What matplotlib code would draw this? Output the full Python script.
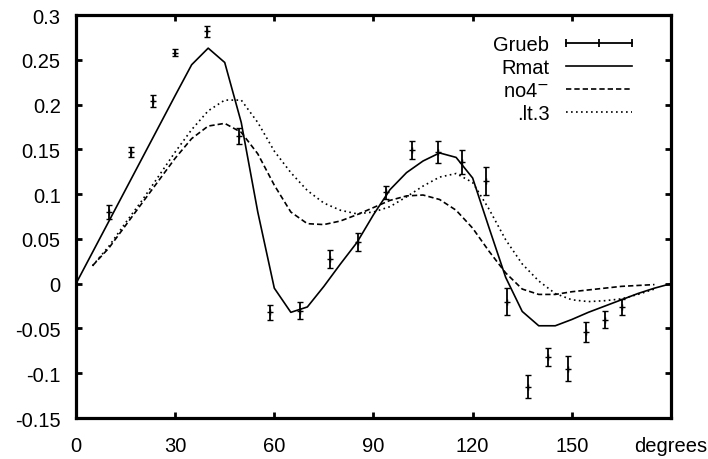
import matplotlib
matplotlib.use('Agg')
import matplotlib.pyplot as plt
from matplotlib.lines import Line2D
from matplotlib.legend_handler import HandlerBase

plt.rcParams['font.family'] = ['Liberation Sans', 'DejaVu Sans']

# Grueb data points with error bars
grueb_x = [10, 16.6, 23.4, 30, 39.7, 49.4, 58.7, 67.8, 76.8, 85.4, 93.8,
           101.7, 109.6, 116.8, 124.1, 130.4, 136.8, 142.8, 148.7, 154.3, 160, 165.2]
grueb_y = [0.080, 0.147, 0.204, 0.258, 0.282, 0.165, -0.032, -0.030, 0.028, 0.047, 0.102,
           0.149, 0.147, 0.136, 0.115, -0.020, -0.115, -0.082, -0.095, -0.054, -0.040, -0.026]
grueb_err = [0.0075, 0.006, 0.007, 0.0035, 0.006, 0.009, 0.0085, 0.0095, 0.010, 0.010, 0.0075,
             0.010, 0.012, 0.013, 0.0155, 0.015, 0.013, 0.010, 0.014, 0.011, 0.009, 0.0085]

# Rmat curve (every 5 degrees)
rmat_x = list(range(0, 181, 5))
rmat_y = [0, 0.035, 0.070, 0.105, 0.140, 0.175, 0.210, 0.2445, 0.263, 0.247, 0.180, 0.080,
          -0.005, -0.032, -0.026, -0.003, 0.022, 0.046, 0.077, 0.105, 0.124, 0.137, 0.146,
          0.141, 0.118, 0.062, 0.007, -0.031, -0.047, -0.047, -0.040, -0.032, -0.025,
          -0.018, -0.011, -0.005, 0]

# no4- curve
no4_x = list(range(5, 176, 5))
no4_y = [0.020, 0.040, 0.065, 0.090, 0.115, 0.140, 0.162, 0.176, 0.179, 0.169, 0.145, 0.110,
         0.080, 0.067, 0.066, 0.070, 0.077, 0.085, 0.093, 0.098, 0.099, 0.094, 0.082, 0.062,
         0.036, 0.012, -0.006, -0.012, -0.012, -0.009, -0.007, -0.005, -0.003, -0.002, -0.001]

# .lt.3 curve
lt3_x = list(range(5, 176, 5))
lt3_y = [0.020, 0.042, 0.068, 0.093, 0.120, 0.147, 0.172, 0.193, 0.205, 0.205, 0.180, 0.148,
         0.124, 0.104, 0.090, 0.082, 0.078, 0.080, 0.086, 0.097, 0.109, 0.119, 0.123, 0.113,
         0.083, 0.049, 0.022, 0.003, -0.011, -0.018, -0.020, -0.019, -0.017, -0.012, -0.006]

xticks = [0, 30, 60, 90, 120, 150, 180]
xlabels = ['0', '30', '60', '90', '120', '150', 'degrees']
yticks = [0.3, 0.25, 0.2, 0.15, 0.1, 0.05, 0, -0.05, -0.1, -0.15]
ylabels = ['0.3', '0.25', '0.2', '0.15', '0.1', '0.05', '0', '-0.05', '-0.1', '-0.15']


class HandlerGrueb(HandlerBase):
    # horizontal error bar style legend key
    def create_artists(self, legend, orig_handle, xdescent, ydescent,
                       width, height, fontsize, trans):
        y = height / 2 - ydescent
        x0 = -xdescent
        x1 = width - xdescent
        line = Line2D([x0, x1], [y, y], color='black', lw=1.3)
        caps = Line2D([x0, (x0 + x1) / 2, x1], [y, y, y], ls='none', marker='|',
                      ms=6, mew=1.3, color='black')
        line.set_transform(trans)
        caps.set_transform(trans)
        return [line, caps]


fig = plt.figure(figsize=(7.08, 4.6), dpi=100)
ax = fig.add_axes([0.1073, 0.0891, 0.8404, 0.8761])

ax.errorbar(grueb_x, grueb_y, yerr=grueb_err, fmt='+', color='black', ms=4,
            mew=1.0, elinewidth=1.3, capsize=2, capthick=1.3)
l1, = ax.plot(rmat_x, rmat_y, color='black', lw=1.2)
l2, = ax.plot(no4_x, no4_y, color='black', lw=1.2, linestyle=(0, (3.2, 1.8)))
l3, = ax.plot(lt3_x, lt3_y, color='black', lw=1.2, linestyle=(0, (1, 2)))

ax.set_xlim(0, 180)
ax.set_ylim(-0.15, 0.3)
ax.set_xticks(xticks)
ax.set_xticklabels(xlabels)
ax.set_yticks(yticks)
ax.set_yticklabels(ylabels)
ax.tick_params(direction='in', length=4, width=2, top=True, right=True, labelsize=14.5)
ax.tick_params(axis='x', pad=13)
ax.tick_params(axis='y', pad=11)
for s in ax.spines.values():
    s.set_linewidth(2.3)

grueb_handle = Line2D([], [])
ax.legend([grueb_handle, l1, l2, l3], ['Grueb', 'Rmat', 'no4$^{-}$', '.lt.3'],
          handler_map={grueb_handle: HandlerGrueb()}, loc='upper right',
          bbox_to_anchor=(0.965, 0.995), frameon=False, markerfirst=False,
          fontsize=14.5, handlelength=3.3, labelspacing=0.2, handletextpad=0.8)

fig.savefig('out.png', dpi=100)
